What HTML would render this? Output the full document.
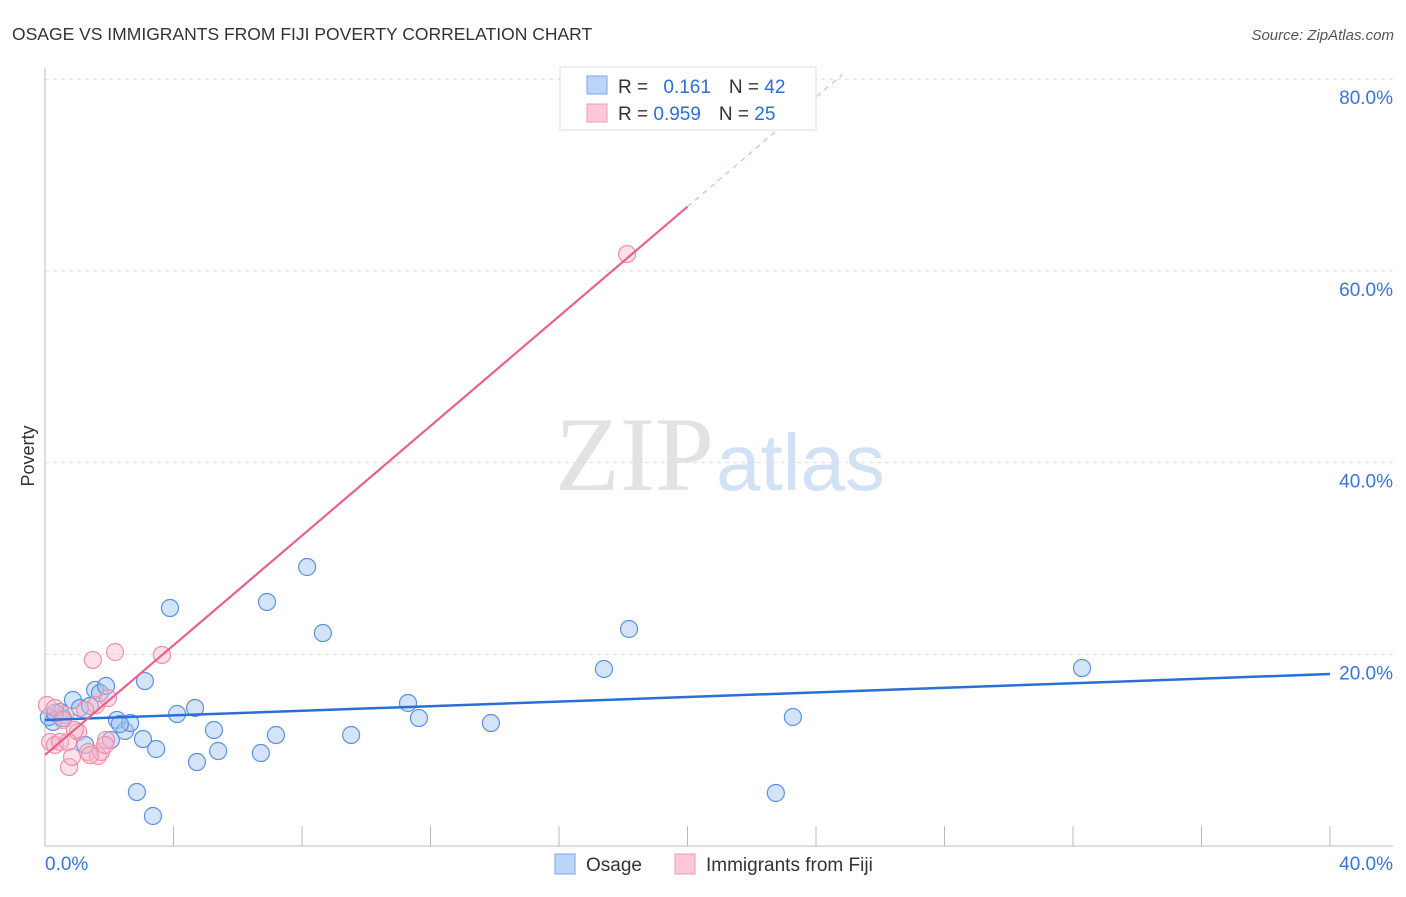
<!DOCTYPE html>
<html><head><meta charset="utf-8"><style>
body{margin:0;background:#fff;font-family:"Liberation Sans",sans-serif}
</style></head><body>
<svg width="1406" height="892" xmlns="http://www.w3.org/2000/svg">
<text x="12" y="40" font-size="17.5" fill="#333">OSAGE VS IMMIGRANTS FROM FIJI POVERTY CORRELATION CHART</text>
<text x="1394" y="40" font-size="15" fill="#555" font-style="italic" text-anchor="end">Source: ZipAtlas.com</text>
<text x="714" y="490" font-size="106" fill="#e2e2e2" text-anchor="end" font-family="Liberation Serif,serif">ZIP</text>
<text x="716" y="490" font-size="80" fill="#d3e1f5">atlas</text>
<text x="34" y="456" font-size="18" fill="#333" transform="rotate(-90 34 456)" text-anchor="middle">Poverty</text>
<g id="grid"></g><g id="axes"></g><g id="pts"></g><g id="lines"></g>
<g>
<rect x="560" y="67" width="256" height="63" fill="#fff" stroke="#ddd"/>
<rect x="587" y="76" width="20" height="18" fill="#bcd4f6" stroke="#7aa6e8"/>
<rect x="587" y="104" width="20" height="18" fill="#fbc9d7" stroke="#f09ab3"/>
<text x="618" y="93" font-size="19" fill="#333">R = <tspan fill="#2a6fd6" dx="10">0.161</tspan><tspan dx="18" fill="#333">N = </tspan><tspan fill="#2a6fd6">42</tspan></text>
<text x="618" y="120" font-size="19" fill="#333">R = <tspan fill="#2a6fd6">0.959</tspan><tspan dx="18" fill="#333">N = </tspan><tspan fill="#2a6fd6">25</tspan></text>
</g>
<g>
<rect x="555" y="854" width="20" height="20" fill="#bcd4f6" stroke="#7aa6e8"/>
<text x="586" y="871" font-size="19" fill="#333">Osage</text>
<rect x="675" y="854" width="20" height="20" fill="#fbc9d7" stroke="#f09ab3"/>
<text x="706" y="871" font-size="19" fill="#333">Immigrants from Fiji</text>
</g>
</svg>
<script>
const blueX=[0.25,0.47,0.56,0.87,1.09,1.25,1.56,1.71,1.90,2.05,2.24,2.49,2.65,2.86,3.11,3.05,3.46,3.36,3.89,4.11,4.67,4.73,5.26,5.39,6.72,6.91,7.19,8.16,8.65,9.53,11.30,11.64,13.88,17.40,18.18,22.75,23.28,32.28,0.12,0.31,1.40,2.33];
const blueY=[12.94,13.98,13.35,15.23,14.40,10.54,16.28,15.96,16.69,11.06,13.15,12.00,12.83,5.63,17.21,11.16,10.12,3.13,24.83,13.77,14.40,8.76,12.10,9.91,9.70,25.46,11.58,29.11,22.22,11.58,14.92,13.35,12.83,18.47,22.64,5.53,13.46,18.57,13.46,13.88,14.61,12.73];
const pinkX=[0.06,0.16,0.31,0.47,0.62,0.75,0.84,1.03,1.34,1.49,1.59,1.65,1.74,1.90,1.96,2.18,3.64,18.12,0.31,0.56,0.93,0.72,1.25,1.87,1.40];
const pinkY=[14.71,10.85,10.54,10.85,13.67,8.24,9.29,11.89,9.81,19.41,14.71,9.39,9.81,11.06,15.44,20.24,19.93,61.76,14.40,13.15,12.10,10.85,14.19,10.54,9.49];
const blueLine=[13.15,17.94];
const pinkLine=[9.5,2.86];
const yTicks=[20,40,60,80];
const xTicks=[0,4,8,12,16,20,24,28,32,36,40];
const NS="http://www.w3.org/2000/svg";
const sx=v=>45+v*32.125, sy=v=>846-v*9.585;
function mk(p,tag,a){const e=document.createElementNS(NS,tag);for(const k in a)e.setAttribute(k,a[k]);document.getElementById(p).appendChild(e);return e;}
yTicks.forEach(t=>{
 let l=mk('grid','line',{x1:45,x2:1393,y1:sy(t),y2:sy(t),stroke:'#ddd','stroke-dasharray':'4,4'});
 
 
 let tx=mk('grid','text',{x:1393,y:sy(t)+25,'font-size':19,fill:'#3a74d8','text-anchor':'end'});tx.textContent=t.toFixed(1)+'%';
 
 
});
let ax=mk('axes','line',{x1:45,x2:1393,y1:846,y2:846,stroke:'#bbb'});


let ay=mk('axes','line',{x1:45,x2:45,y1:68,y2:846,stroke:'#bbb'});


xTicks.forEach(t=>{let l=mk('axes','line',{x1:sx(t),x2:sx(t),y1:826,y2:846,stroke:'#bbb'});
 
 });
[[0,'start',45],[40,'end',1393]].forEach(([v,a,x])=>{let t=mk('axes','text',{x:x,y:870,'font-size':19,fill:'#3a74d8','text-anchor':a});t.textContent=v.toFixed(1)+'%';
 
 });
blueX.forEach((x,i)=>{let c=mk('pts','circle',{cx:sx(x),cy:sy(blueY[i]),r:8.5,fill:'rgba(160,195,240,0.45)',stroke:'#5b92e0','stroke-width':1.2});
 
 });
pinkX.forEach((x,i)=>{let c=mk('pts','circle',{cx:sx(x),cy:sy(pinkY[i]),r:8.5,fill:'rgba(248,180,200,0.4)',stroke:'#ef8fab','stroke-width':1.2});
 
 });
let bl=mk('lines','line',{x1:sx(0),y1:sy(blueLine[0]),x2:sx(40),y2:sy(blueLine[1]),stroke:'#2a6fd6','stroke-width':2.5});


const pl=x=>pinkLine[0]+pinkLine[1]*x;
let p1=mk('lines','line',{x1:sx(0),y1:sy(pl(0)),x2:sx(20),y2:sy(pl(20)),stroke:'#e8618c','stroke-width':2.2});


const xe=(80.5-pinkLine[0])/pinkLine[1];
let p2=mk('lines','line',{x1:sx(20),y1:sy(pl(20)),x2:sx(xe),y2:sy(pl(xe)),stroke:'#f0a0b8','stroke-width':1,'stroke-dasharray':'5,5'});


</script>
</body></html>
